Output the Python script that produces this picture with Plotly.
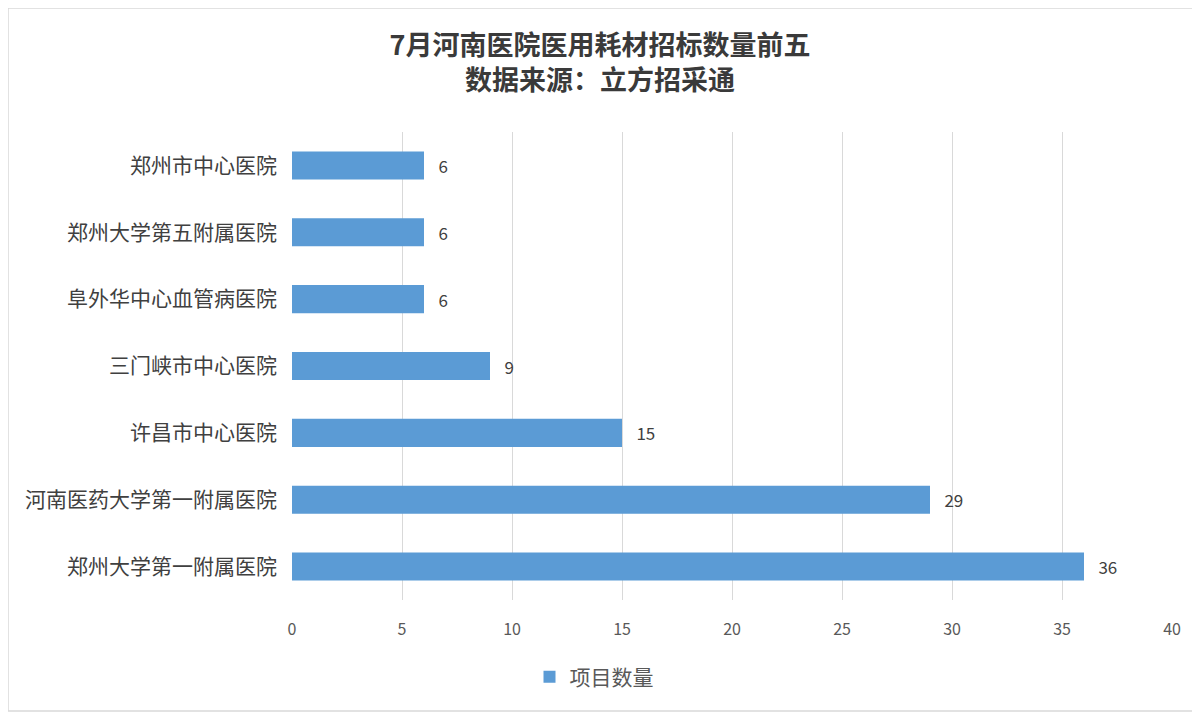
import plotly.graph_objects as go

hospitals = ["郑州大学第一附属医院", "河南医药大学第一附属医院", "许昌市中心医院",
             "三门峡市中心医院", "阜外华中心血管病医院", "郑州大学第五附属医院", "郑州市中心医院"]
counts = [36, 29, 15, 9, 6, 6, 6]
series_name = "项目数量"
title_lines = ["7月河南医院医用耗材招标数量前五", "数据来源：立方招采通"]

W, H = 1200, 713
# page is drawn 8px in from the corner, so margins are shifted
ml, mr, mt, mb = 284, 36, 124, 121
pw, ph = W - ml - mr, H - mt - mb
bottom = H - mb

fig = go.Figure(go.Bar(
    x=counts, y=hospitals, orientation="h", name=series_name,
    marker=dict(color="#5b9bd5", line=dict(width=0)),
    width=0.42,
    text=counts, texttemplate="\u00a0\u00a0\u00a0%{x}", textposition="outside", cliponaxis=False,
    textfont=dict(size=17, color="#404040"),
    showlegend=True,
))

fig.update_layout(
    width=W, height=H,
    margin=dict(l=ml, r=mr, t=mt, b=mb),
    paper_bgcolor="white", plot_bgcolor="white",
    font=dict(family="Noto Sans CJK SC", color="#595959"),
    title=dict(text="<b>" + "<br>".join(title_lines) + "</b>",
               xref="paper", x=(592 - ml) / pw, xanchor="center",
               yref="container", y=1 - 47 / H, yanchor="middle",
               font=dict(size=27, color="#3a3a3a")),
    xaxis=dict(range=[0, 40], dtick=5, showgrid=True, gridcolor="#d9d9d9", gridwidth=1,
               zeroline=False, showline=False, ticks="", tickfont=dict(size=16, color="#595959"),
               ticklabelstandoff=18),
    yaxis=dict(showgrid=False, zeroline=False, showline=False, ticks="",
               tickfont=dict(size=21, color="#404040"), ticklabelstandoff=14),
    legend=dict(orientation="h", x=(586 - ml) / pw, xanchor="center",
                y=(bottom - 669) / ph, yanchor="middle",
                font=dict(size=21, color="#595959")),
    bargap=0.58,
)

fig.add_shape(type="rect", xref="paper", yref="paper",
              x0=-ml / pw, x1=(1189 - ml) / pw,
              y0=(bottom - 703) / ph, y1=1 + mt / ph,
              line=dict(color="#d9d9d9", width=1.5))

fig.write_html("out.html")
